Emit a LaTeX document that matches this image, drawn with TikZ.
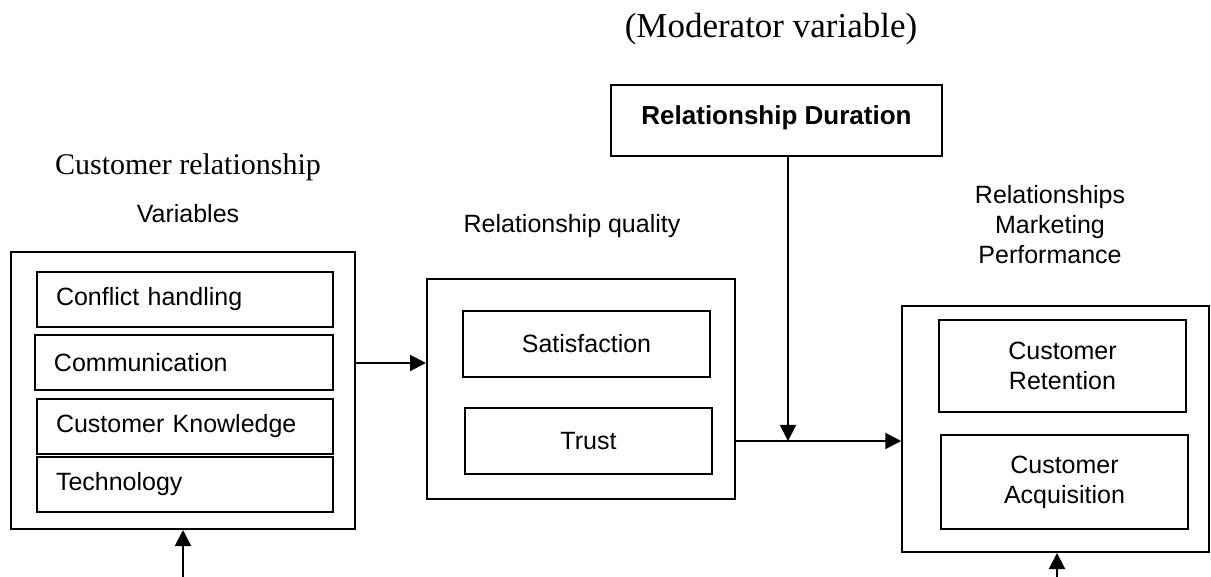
\documentclass[tikz,border=0pt]{standalone}
\usepackage{fontspec}
\setmainfont{Liberation Serif}
\setsansfont{Liberation Sans}
\usetikzlibrary{arrows.meta}

\begin{document}
\begin{tikzpicture}[x=0.5pt, y=-0.5pt, line width=1pt,
        group/.style={draw, inner sep=0pt},
        box/.style={draw, inner sep=0pt, font=\sffamily\fontsize{12.5}{15}\selectfont},
        item/.style={box, minimum width=123.5pt, align=center},
        var/.style={box, minimum height=27.5pt, text width=129pt, inner xsep=9.5pt, align=left},
        title/.style={font=\sffamily\fontsize{12.5}{15}\selectfont, inner sep=0pt, anchor=base},
        arr/.style={-{Triangle[length=8pt, width=8pt]}}]
        \useasboundingbox (0,0) rectangle (1211,577);

        \node[font=\fontsize{17.5}{19}\selectfont, inner sep=0pt, anchor=base] (mod) at (771,38) {(Moderator variable)};
        \node[font=\fontsize{15}{17}\selectfont, inner sep=0pt, anchor=base] (crl) at (188,175) {Customer relationship};
        \node[title] (varl) at (188,223) {Variables};
        \node[title] (rql) at (572,233) {Relationship quality};
        \node[title, anchor=north, align=center] (rmpl) at (1050,184) {Relationships\\Marketing\\Performance};

        \node[box, font=\sffamily\bfseries\fontsize{13}{15}\selectfont, minimum width=165.5pt, text height=20pt, text depth=15.5pt, anchor=base] (dur) at (776.5,125) {Relationship Duration};

        \node[group, minimum width=172pt, minimum height=138.5pt] (crv) at (183,390.5) {};
        \node[var] (confl) at (185,299.5) {Conflict handling};
        \node[var, text width=130pt] (comm) at (184,363) {Communication};
        \node[var] (know) at (185,426.5) {Customer Knowledge};
        \node[var] (tech) at (185,484.5) {Technology};

        \node[group, minimum width=154pt, minimum height=110pt] (rq) at (581,389) {};
        \node[item, minimum height=33pt] (sat) at (586.5,344) {Satisfaction};
        \node[item, minimum height=33pt] (trust) at (588.5,441) {Trust};

        \node[group, minimum width=153.5pt, minimum height=123pt] (rmp) at (1055.75,429) {};
        \node[item, minimum height=46pt] (ret) at (1062.5,366) {Customer\\Retention};
        \node[item, minimum height=47pt] (acq) at (1064.5,482) {Customer\\Acquisition};

        \coordinate (join) at (788,441);
        \coordinate (inA) at (183,577);
        \coordinate (inB) at (1057,577);

        \draw[arr] (crv.east |- comm) -- (rq.west |- comm);
        \draw[arr] (rq.east |- trust) -- (rmp.west |- trust);
        \draw[arr] (dur.south -| join) -- (join);
        \draw[arr] (inA) -- (crv.south);
        \draw[arr] (inB) -- (rmp.south -| inB);
    \end{tikzpicture}
\end{document}
